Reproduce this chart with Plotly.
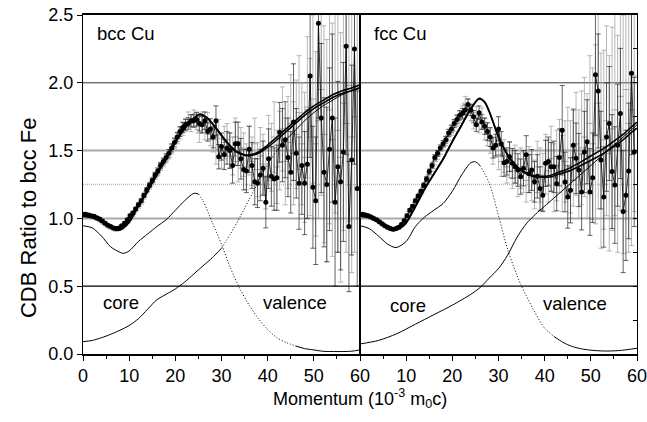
import plotly.graph_objects as go

FONT = "Liberation Sans, Arial, Helvetica, sans-serif"

# ---------------- data ----------------
momentum = [0.0, 0.6, 1.2, 1.8, 2.4, 3.0, 3.6, 4.2, 4.8, 5.4,
            6.0, 6.6, 7.2, 7.8, 8.4, 9.0, 9.6, 10.2, 10.8, 11.4,
            12.0, 12.6, 13.2, 13.8, 14.4, 15.0, 15.6, 16.2, 16.8, 17.4,
            18.0, 18.6, 19.2, 19.8, 20.4, 21.0, 21.6, 22.2, 22.8, 23.4,
            24.0, 24.6, 25.2, 25.8, 26.4, 27.0, 27.6, 28.2, 28.8, 29.4,
            30.0, 30.6, 31.2, 31.8, 32.4, 33.0, 33.6, 34.2, 34.8, 35.4,
            36.0, 36.6, 37.2, 37.8, 38.4, 39.0, 39.6, 40.2, 40.8, 41.4,
            42.0, 42.6, 43.2, 43.8, 44.4, 45.0, 45.6, 46.2, 46.8, 47.4,
            48.0, 48.6, 49.2, 49.8, 50.4, 51.0, 51.6, 52.2, 52.8, 53.4,
            54.0, 54.6, 55.2, 55.8, 56.4, 57.0, 57.6, 58.2, 58.8, 59.4]

# bcc Cu (left panel)
bcc_black = [1.03, 1.03, 1.025, 1.02, 1.015, 1.005, 0.995, 0.98, 0.965, 0.95,
             0.94, 0.93, 0.925, 0.93, 0.945, 0.965, 0.99, 1.02, 1.04, 1.07,
             1.10, 1.13, 1.17, 1.21, 1.245, 1.28, 1.32, 1.35, 1.39, 1.42,
             1.45, 1.48, 1.52, 1.56, 1.60, 1.64, 1.67, 1.69, 1.70, 1.72,
             1.72, 1.73, 1.70, 1.69, 1.72, 1.64, 1.66, 1.60, 1.72, 1.455,
             1.53, 1.47, 1.52, 1.50, 1.39, 1.55, 1.55, 1.44, 1.36, 1.35,
             1.51, 1.39, 1.27, 1.26, 1.32, 1.37, 1.12, 1.44, 1.31, 1.29,
             1.30, 1.635, 1.54, 1.58, 1.45, 1.34, 1.71, 1.48, 1.26, 1.39,
             1.26, 1.40, 2.05, 1.23, 1.13, 2.44, 1.74, 1.34, 1.25, 1.51,
             1.74, 1.12, 1.38, 1.27, 1.49, 2.27, 0.94, 1.43, 2.25, 1.22]
bcc_black_err = [0.008, 0.008, 0.008, 0.008, 0.008, 0.008, 0.008, 0.008, 0.008, 0.008,
                 0.008, 0.008, 0.008, 0.008, 0.01, 0.01, 0.01, 0.012, 0.012, 0.012,
                 0.014, 0.015, 0.016, 0.017, 0.018, 0.019, 0.02, 0.022, 0.023, 0.025,
                 0.027, 0.028, 0.03, 0.032, 0.034, 0.036, 0.038, 0.04, 0.042, 0.045,
                 0.048, 0.05, 0.055, 0.06, 0.065, 0.07, 0.075, 0.08, 0.11, 0.09,
                 0.10, 0.11, 0.12, 0.13, 0.13, 0.16, 0.16, 0.15, 0.15, 0.16,
                 0.17, 0.17, 0.17, 0.18, 0.19, 0.20, 0.19, 0.22, 0.22, 0.23,
                 0.24, 0.22, 0.27, 0.28, 0.29, 0.30, 0.43, 0.33, 0.34, 0.36,
                 0.38, 0.40, 0.60, 0.45, 0.47, 0.70, 0.55, 0.55, 0.57, 0.60,
                 0.62, 0.62, 0.63, 0.65, 0.66, 0.80, 0.48, 0.70, 0.85, 0.72]
bcc_grey = [1.02, 1.02, 1.015, 1.01, 1.005, 0.995, 0.985, 0.97, 0.955, 0.94,
            0.93, 0.92, 0.915, 0.92, 0.93, 0.95, 0.975, 1.0, 1.03, 1.06,
            1.09, 1.12, 1.16, 1.20, 1.235, 1.27, 1.31, 1.34, 1.38, 1.41,
            1.44, 1.47, 1.51, 1.55, 1.59, 1.63, 1.66, 1.69, 1.73, 1.70,
            1.74, 1.72, 1.63, 1.71, 1.66, 1.70, 1.62, 1.58, 1.50, 1.62,
            1.48, 1.56, 1.58, 1.50, 1.46, 1.60, 1.42, 1.52, 1.47, 1.38,
            1.50, 1.42, 1.55, 1.36, 1.46, 1.40, 1.30, 1.52, 1.45, 1.60,
            1.38, 1.50, 1.66, 1.42, 1.56, 1.70, 1.48, 1.62, 1.78, 1.55,
            1.45, 1.82, 1.60, 1.88, 1.55, 1.72, 1.95, 1.62, 1.50, 1.80,
            1.58, 1.92, 1.65, 1.45, 1.85, 1.70, 1.98, 1.60, 1.75, 2.00]
bcc_grey_err = [0.01, 0.01, 0.01, 0.01, 0.01, 0.01, 0.01, 0.01, 0.01, 0.01,
                0.01, 0.01, 0.01, 0.01, 0.012, 0.012, 0.012, 0.012, 0.014, 0.014,
                0.015, 0.017, 0.018, 0.019, 0.02, 0.022, 0.023, 0.025, 0.026, 0.028,
                0.03, 0.032, 0.034, 0.036, 0.038, 0.045, 0.05, 0.05, 0.055, 0.06,
                0.06, 0.065, 0.07, 0.075, 0.08, 0.08, 0.085, 0.09, 0.10, 0.11,
                0.11, 0.12, 0.12, 0.13, 0.14, 0.14, 0.15, 0.15, 0.16, 0.17,
                0.18, 0.18, 0.19, 0.20, 0.21, 0.22, 0.23, 0.24, 0.25, 0.26,
                0.27, 0.29, 0.31, 0.32, 0.34, 0.36, 0.38, 0.40, 0.42, 0.45,
                0.48, 0.52, 0.58, 0.62, 0.68, 0.72, 0.78, 0.80, 0.82, 0.84,
                0.86, 0.88, 0.90, 0.92, 0.94, 0.95, 1.0, 1.0, 1.0, 1.0]

bcc_fit_x = [0, 2, 4, 6, 7, 8, 10, 12, 14, 16, 18, 20, 22, 24, 25.3, 27, 29, 31, 33,
             35, 36, 38, 40, 42, 44, 46, 48, 50, 52, 54, 56, 58, 60]
bcc_fit_a = [1.025, 1.01, 0.98, 0.94, 0.92, 0.92, 0.98, 1.10, 1.21, 1.33, 1.45, 1.57, 1.67,
             1.74, 1.77, 1.74, 1.66, 1.57, 1.50, 1.47, 1.467, 1.49, 1.54, 1.60, 1.66, 1.72,
             1.78, 1.83, 1.87, 1.91, 1.94, 1.96, 1.985]
bcc_fit_b = [1.015, 1.005, 0.975, 0.935, 0.915, 0.915, 0.97, 1.09, 1.20, 1.32, 1.44, 1.56,
             1.66, 1.735, 1.765, 1.735, 1.655, 1.565, 1.495, 1.465, 1.462, 1.48, 1.525,
             1.58, 1.64, 1.70, 1.76, 1.81, 1.85, 1.89, 1.92, 1.94, 1.965]

bcc_core_x = [0, 2, 4, 6, 8, 8.7, 10, 12, 14, 16, 18, 20, 22, 24, 25, 26, 28, 30, 32, 34,
              36, 38, 40, 42, 44, 46, 48, 50, 52, 55, 58, 60]
bcc_core = [0.946, 0.93, 0.87, 0.79, 0.75, 0.742, 0.76, 0.83, 0.885, 0.94, 0.99, 1.06,
            1.13, 1.185, 1.18, 1.13, 0.97, 0.81, 0.63, 0.48, 0.36, 0.26, 0.18, 0.12, 0.085,
            0.06, 0.04, 0.03, 0.02, 0.018, 0.02, 0.03]
bcc_val_x = [0, 2, 4, 6, 8, 10, 12, 14, 16, 18, 20, 22, 24, 26, 28, 30, 32, 34, 36, 38,
             40, 42, 44, 46, 48, 50, 52, 54, 56, 58, 60]
bcc_val = [0.091, 0.10, 0.12, 0.145, 0.175, 0.21, 0.26, 0.33, 0.40, 0.44, 0.48, 0.53,
           0.59, 0.65, 0.71, 0.78, 0.89, 1.01, 1.14, 1.27, 1.40, 1.50, 1.58, 1.65, 1.72,
           1.78, 1.83, 1.87, 1.91, 1.94, 1.96]

# fcc Cu (right panel)
fcc_black = [1.03, 1.03, 1.025, 1.02, 1.01, 1.0, 0.99, 0.975, 0.96, 0.945,
             0.935, 0.925, 0.92, 0.925, 0.935, 0.955, 0.985, 1.02, 1.06, 1.09,
             1.13, 1.165, 1.20, 1.245, 1.29, 1.345, 1.39, 1.45, 1.48, 1.52,
             1.55, 1.58, 1.63, 1.66, 1.70, 1.73, 1.76, 1.775, 1.80, 1.84,
             1.80, 1.75, 1.69, 1.78, 1.71, 1.68, 1.64, 1.60, 1.52, 1.54,
             1.66, 1.55, 1.41, 1.42, 1.455, 1.406, 1.38, 1.357, 1.308, 1.37,
             1.47, 1.33, 1.357, 1.27, 1.31, 1.22, 1.17, 1.406, 1.42, 1.38,
             1.38, 1.256, 1.45, 1.65, 1.268, 1.158, 1.207, 1.54, 1.443, 1.357,
             1.195, 1.49, 1.565, 1.195, 1.30, 2.06, 1.94, 1.43, 1.158, 1.60,
             1.70, 1.345, 1.246, 1.54, 1.774, 1.05, 1.17, 1.35, 2.07, 1.49]
fcc_black_err = [0.008, 0.008, 0.008, 0.008, 0.008, 0.008, 0.008, 0.008, 0.008, 0.008,
                 0.008, 0.008, 0.008, 0.008, 0.01, 0.01, 0.01, 0.011, 0.012, 0.012,
                 0.013, 0.014, 0.015, 0.016, 0.017, 0.018, 0.019, 0.02, 0.021, 0.022,
                 0.024, 0.025, 0.027, 0.028, 0.03, 0.032, 0.034, 0.036, 0.038, 0.04,
                 0.042, 0.045, 0.048, 0.05, 0.055, 0.06, 0.065, 0.07, 0.075, 0.08,
                 0.09, 0.09, 0.10, 0.10, 0.11, 0.11, 0.12, 0.12, 0.13, 0.13,
                 0.14, 0.14, 0.15, 0.15, 0.16, 0.16, 0.12, 0.17, 0.18, 0.18,
                 0.19, 0.20, 0.21, 0.33, 0.22, 0.23, 0.24, 0.26, 0.26, 0.27,
                 0.28, 0.30, 0.31, 0.32, 0.33, 0.45, 0.42, 0.36, 0.37, 0.40,
                 0.42, 0.42, 0.43, 0.45, 0.48, 0.45, 0.48, 0.50, 0.60, 0.55]
fcc_grey = [1.02, 1.02, 1.015, 1.01, 1.005, 0.995, 0.985, 0.97, 0.955, 0.94,
            0.93, 0.92, 0.915, 0.92, 0.93, 0.95, 0.98, 1.01, 1.05, 1.08,
            1.12, 1.155, 1.19, 1.23, 1.27, 1.32, 1.37, 1.42, 1.46, 1.50,
            1.53, 1.57, 1.61, 1.65, 1.68, 1.72, 1.75, 1.78, 1.85, 1.83,
            1.78, 1.72, 1.76, 1.70, 1.74, 1.66, 1.62, 1.57, 1.50, 1.55,
            1.47, 1.42, 1.46, 1.38, 1.43, 1.35, 1.40, 1.30, 1.37, 1.34,
            1.28, 1.36, 1.30, 1.25, 1.38, 1.32, 1.27, 1.40, 1.35, 1.44,
            1.30, 1.39, 1.46, 1.33, 1.42, 1.50, 1.38, 1.45, 1.55, 1.40,
            1.52, 1.60, 1.46, 1.70, 1.55, 1.62, 1.85, 1.50, 1.58, 1.72,
            1.48, 1.66, 1.80, 1.55, 1.90, 1.62, 1.95, 1.70, 1.80, 2.05]
fcc_grey_err = [0.01, 0.01, 0.01, 0.01, 0.01, 0.01, 0.01, 0.01, 0.01, 0.01,
                0.01, 0.01, 0.01, 0.01, 0.012, 0.012, 0.012, 0.012, 0.014, 0.014,
                0.015, 0.017, 0.018, 0.019, 0.02, 0.022, 0.023, 0.025, 0.026, 0.028,
                0.03, 0.032, 0.034, 0.036, 0.038, 0.04, 0.045, 0.05, 0.05, 0.055,
                0.06, 0.06, 0.065, 0.07, 0.075, 0.08, 0.085, 0.09, 0.10, 0.10,
                0.11, 0.11, 0.12, 0.12, 0.13, 0.13, 0.14, 0.14, 0.15, 0.15,
                0.16, 0.17, 0.17, 0.18, 0.19, 0.20, 0.21, 0.22, 0.23, 0.24,
                0.25, 0.26, 0.27, 0.28, 0.30, 0.32, 0.34, 0.36, 0.38, 0.40,
                0.42, 0.44, 0.46, 0.50, 0.56, 0.66, 0.78, 0.72, 0.66, 0.70,
                0.72, 0.75, 0.78, 0.80, 0.84, 0.88, 0.90, 0.95, 1.0, 1.0]

fcc_fit_x = [0, 2, 4, 6, 7.2, 9, 10, 12, 14, 16, 18, 20, 22, 24, 25.8, 27, 28, 29.6, 31,
             33, 35, 37, 39, 41, 43, 45, 47, 49, 51, 53, 55, 57, 59, 60]
fcc_fit_a = [1.02, 1.01, 0.98, 0.935, 0.92, 0.94, 0.97, 1.09, 1.22, 1.33, 1.44, 1.57,
             1.69, 1.81, 1.886, 1.86, 1.79, 1.64, 1.53, 1.42, 1.355, 1.32, 1.31, 1.315,
             1.34, 1.365, 1.40, 1.44, 1.48, 1.52, 1.57, 1.62, 1.68, 1.71]
fcc_fit_b = [1.015, 1.005, 0.975, 0.93, 0.915, 0.935, 0.965, 1.085, 1.215, 1.325, 1.435,
             1.565, 1.685, 1.805, 1.88, 1.855, 1.785, 1.635, 1.525, 1.415, 1.35, 1.315,
             1.305, 1.305, 1.325, 1.345, 1.375, 1.41, 1.445, 1.485, 1.53, 1.58, 1.64, 1.665]

fcc_core_x = [0, 2, 4, 6, 7.8, 10, 12, 14, 16, 18, 20, 22, 24, 25, 26, 28, 30, 32, 34,
              35, 36, 38, 40, 42, 44, 46, 48, 50, 53, 56, 60]
fcc_core = [0.946, 0.925, 0.87, 0.81, 0.785, 0.83, 0.94, 1.01, 1.06, 1.11, 1.20, 1.32,
            1.41, 1.418, 1.39, 1.26, 1.02, 0.77, 0.58, 0.50, 0.43, 0.30, 0.19, 0.13, 0.085,
            0.055, 0.038, 0.028, 0.022, 0.025, 0.042]
fcc_val_x = [0, 4, 8, 12, 16, 20, 24, 26, 28, 30, 32, 34, 36, 38, 40, 42, 44, 46, 48, 50,
             52, 54, 56, 58, 60]
fcc_val = [0.074, 0.10, 0.15, 0.22, 0.29, 0.36, 0.44, 0.49, 0.56, 0.63, 0.73, 0.86, 0.96,
           1.03, 1.09, 1.15, 1.21, 1.27, 1.33, 1.39, 1.45, 1.515, 1.57, 1.63, 1.69]

y_ticks = [0.0, 0.5, 1.0, 1.5, 2.0, 2.5]
y_tick_text = ["0.0", "0.5", "1.0", "1.5", "2.0", "2.5"]

# ---------------- figure ----------------
fig = go.Figure()
DOT = "1px,2px"


def seg(xs, ys, lo, hi):
    px = [x for x in xs if lo <= x <= hi]
    py = [y for x, y in zip(xs, ys) if lo <= x <= hi]
    return px, py


def add_panel(xa, ya, black, black_err, grey, grey_err, fx, fa, fb,
              cx, cy, core_dot, vx, vy, val_dot):
    # grey data set
    fig.add_trace(go.Scatter(
        x=momentum, y=grey, mode="markers", xaxis=xa, yaxis=ya,
        marker=dict(symbol="line-ew", size=5, color="#a4a4a4",
                    line=dict(color="#a4a4a4", width=1)),
        error_y=dict(type="data", array=grey_err, color="#a4a4a4",
                     thickness=0.8, width=2.5)))
    # black data set
    fig.add_trace(go.Scatter(
        x=momentum, y=black, mode="lines+markers", xaxis=xa, yaxis=ya,
        line=dict(color="black", width=0.8),
        marker=dict(symbol="circle", size=5, color="black"),
        error_y=dict(type="data", array=black_err, color="#222222",
                     thickness=0.7, width=2.5)))
    # fits
    for f in (fa, fb):
        fig.add_trace(go.Scatter(
            x=fx, y=f, mode="lines", xaxis=xa, yaxis=ya,
            line=dict(color="black", width=1.6, shape="spline", smoothing=0.8)))
    # core and valence components
    for xs, ys, (d0, d1) in ((cx, cy, core_dot), (vx, vy, val_dot)):
        parts = [(0, d0, "solid"), (d0, d1, DOT), (d1, 60, "solid")]
        for lo, hi, dash in parts:
            sx, sy = seg(xs, ys, lo, hi)
            if len(sx) < 2:
                continue
            fig.add_trace(go.Scatter(
                x=sx, y=sy, mode="lines", xaxis=xa, yaxis=ya,
                line=dict(color="black", width=1, dash=dash,
                          shape="spline", smoothing=0.8)))


add_panel("x", "y", bcc_black, bcc_black_err, bcc_grey, bcc_grey_err,
          bcc_fit_x, bcc_fit_a, bcc_fit_b, bcc_core_x, bcc_core, (25, 46),
          bcc_val_x, bcc_val, (30, 42))
add_panel("x2", "y2", fcc_black, fcc_black_err, fcc_grey, fcc_grey_err,
          fcc_fit_x, fcc_fit_a, fcc_fit_b, fcc_core_x, fcc_core, (26, 42),
          fcc_val_x, fcc_val, (61, 61))

# horizontal reference lines
for yv, col, w, dash in ((2.0, "#333333", 1, "solid"), (1.5, "#a8a8a8", 2, "solid"),
                         (1.25, "#b8b8b8", 1.5, "1px,1px"), (1.0, "#a8a8a8", 2, "solid"),
                         (0.5, "black", 1.2, "solid")):
    fig.add_shape(type="line", xref="paper", x0=0, x1=1, yref="y", y0=yv, y1=yv,
                  line=dict(color=col, width=w, dash=dash), layer="below")

xcommon = dict(range=[0, 60], ticks="outside", ticklen=5, tickwidth=1, tickcolor="black",
               showline=True, linecolor="black", linewidth=1.5, mirror=True,
               showgrid=False, zeroline=False, automargin=False,
               ticklabeloverflow="allow",
               tickfont=dict(family=FONT, size=18, color="black"),
               minor=dict(tickvals=[5, 15, 25, 35, 45, 55], ticks="outside", ticklen=3,
                          tickcolor="black", tickwidth=1))
xtop = dict(range=[0, 60], side="top", ticks="inside", ticklen=4, tickcolor="black",
            tickvals=[5 * i for i in range(13)], showticklabels=False, showline=False,
            showgrid=False, zeroline=False, automargin=False)

fig.update_layout(
    width=647, height=422,
    margin=dict(l=83, r=10, t=15, b=68, autoexpand=False),
    paper_bgcolor="white", plot_bgcolor="white",
    showlegend=False,
    font=dict(family=FONT, size=18, color="black"),
    xaxis=dict(domain=[0, 0.5], anchor="y", tickvals=[0, 10, 20, 30, 40, 50, 60], **xcommon),
    xaxis2=dict(domain=[0.5, 1], anchor="y2", tickvals=[10, 20, 30, 40, 50, 60], **xcommon),
    xaxis3=dict(overlaying="x", anchor="y", **xtop),
    xaxis4=dict(overlaying="x2", anchor="y2", **xtop),
    yaxis=dict(range=[0, 2.5], anchor="x", tickvals=y_ticks, ticktext=y_tick_text,
               ticks="outside", ticklen=5, tickcolor="black", showline=True,
               linecolor="black", linewidth=1, mirror=True, showgrid=False, zeroline=False,
               automargin=False, ticklabeloverflow="allow",
               tickfont=dict(family=FONT, size=18, color="black")),
    yaxis2=dict(range=[0, 2.5], anchor="x2", matches="y", side="right",
                tickvals=[0.25 * i for i in range(11)], ticks="inside", ticklen=4,
                tickcolor="black", showticklabels=False, showline=True,
                linecolor="black", linewidth=1, mirror=True, showgrid=False,
                zeroline=False, automargin=False),
)

labels = [("x", "y", 2.6, 2.36, "bcc Cu", "left"),
          ("x2", "y2", 2.6, 2.36, "fcc Cu", "left"),
          ("x", "y", 8.3, 0.38, "core", "center"),
          ("x", "y", 46.0, 0.38, "valence", "center"),
          ("x2", "y2", 10.3, 0.36, "core", "center"),
          ("x2", "y2", 46.6, 0.375, "valence", "center")]
for xr, yr, xv, yv, txt, anc in labels:
    fig.add_annotation(xref=xr, yref=yr, x=xv, y=yv, text=txt, showarrow=False,
                       xanchor=anc, yanchor="middle",
                       font=dict(family=FONT, size=18.5, color="black"))

fig.add_annotation(xref="paper", yref="paper", x=0.5, y=-0.13,
                   text="Momentum (10<sup>-3</sup> m<sub>0</sub>c)", showarrow=False,
                   xanchor="center", yanchor="middle",
                   font=dict(family=FONT, size=18, color="black"))
fig.add_annotation(xref="paper", yref="paper", x=-0.0993, y=0.404,
                   text="CDB Ratio to bcc Fe", showarrow=False, textangle=-90,
                   xanchor="center", yanchor="middle",
                   font=dict(family=FONT, size=22, color="black"))

fig.write_html("out.html", config={"displayModeBar": False},
               post_script="document.body.style.margin='0px';document.body.style.padding='0px';")
